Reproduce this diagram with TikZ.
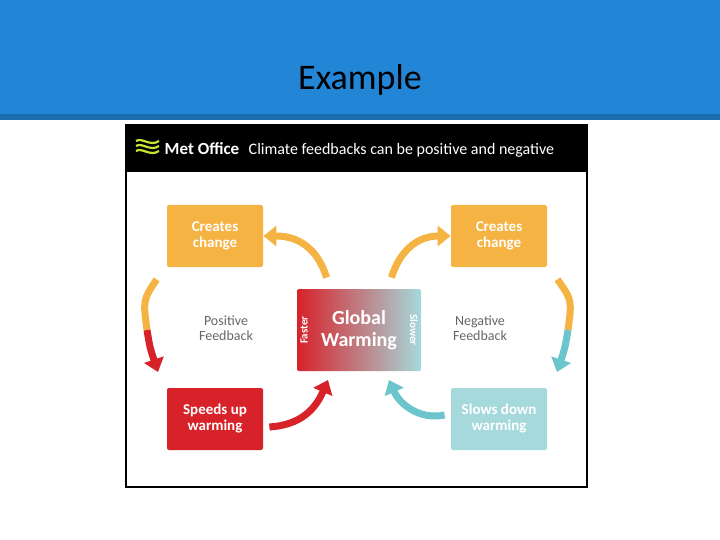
\documentclass[tikz,border=0pt]{standalone}
\usepackage{fontspec}
\setmainfont{Carlito}
\usetikzlibrary{positioning,arrows.meta}
\definecolor{titleblue}{HTML}{2385D6}
\definecolor{titledark}{HTML}{1C6CB0}
\definecolor{boxorange}{HTML}{F4B342}
\definecolor{boxred}{HTML}{D7222A}
\definecolor{boxteal}{HTML}{A6D9DC}
\definecolor{arrteal}{HTML}{6CC4CC}
\definecolor{midorange}{HTML}{E08A3A}
\definecolor{logogreen}{HTML}{C8E030}
\tikzset{
	every path/.style={thick},
	box/.style={
		rectangle,
		rounded corners=2pt,
		minimum width=96pt,
		minimum height=62pt,
		text=white,
		font=\bfseries\fontsize{15}{16}\selectfont,
		align=center,
	},
	fbtext/.style={
		text=black!60,
		font=\fontsize{14}{15}\selectfont,
		align=center,
	},
	feed/.style={
		line width=7pt,
		-{Triangle[width=20pt,length=13pt]},
	},
}
\begin{document}
\begin{tikzpicture}[x=1pt,y=-1pt]
\useasboundingbox (0,0) rectangle (720,540);
% title bar
\fill[titleblue] (0,0) rectangle (720,114);
\fill[titledark] (0,114) rectangle (720,120);
\node (title) at (360,80) {\fontsize{36}{40}\selectfont Example};
% picture frame
\draw[black, line width=1.2pt] (126,125) rectangle (587,487);
\fill[black] (126,125) rectangle (587,172);
\foreach \dy in {0,5,10}
	\draw[logogreen, line width=2.2pt] (136,141+\dy) .. controls (142,137+\dy) and (150,147+\dy) .. (159,141+\dy);
\node[anchor=west, text=white, font=\bfseries\fontsize{17}{18}\selectfont] (met) at (161,149) {Met Office};
\node[anchor=west, text=white, font=\fontsize{16}{18}\selectfont] (head) at (245,150) {Climate feedbacks can be positive and negative};
% boxes
\node[box, fill=boxorange] (ccl) at (215,236) {Creates\\change};
\node[box, fill=boxorange] (ccr) at (499,236) {Creates\\change};
\node[box, fill=boxred] (spd) at (215,419) {Speeds up\\warming};
\node[box, fill=boxteal] (slw) at (499,419) {Slows down\\warming};
\node[rectangle, rounded corners=2pt, minimum width=124pt, minimum height=82pt,
	left color=boxred, middle color=midorange, right color=boxteal] (gw) at (359,330) {};
\node[text=white, font=\bfseries\fontsize{20}{22}\selectfont, align=center] (gwt) at (359,330) {Global\\Warming};
\node[text=white, font=\bfseries\fontsize{11}{12}\selectfont, rotate=90] (fast) at (304,330) {Faster};
\node[text=white, font=\bfseries\fontsize{11}{12}\selectfont, rotate=-90] (slow) at (414,330) {Slower};
\node[fbtext] (pos) at (226,328) {Positive\\Feedback};
\node[fbtext] (neg) at (480,328) {Negative\\Feedback};
% feedback arrows
\draw[feed, boxorange] (gw.north west)++(30,-11) coordinate (a1) .. controls (318,250) and (300,236) .. (ccl.east);
\draw[feed, boxorange] (gw.north east)++(-30,-11) coordinate (a2) .. controls (400,250) and (418,236) .. (ccr.west);
\draw[line width=7pt, boxorange] (ccl.south west)++(-10,12) .. controls (143,300) .. (147,330) coordinate (l1);
\draw[feed, boxred] (l1) .. controls (150,348) .. (158,372);
\draw[line width=7pt, boxorange] (ccr.south east)++(10,12) .. controls (572,300) .. (568,330) coordinate (r1);
\draw[feed, arrteal] (r1) .. controls (565,348) .. (557,372);
\draw[feed, boxred] (spd.east)++(6,8) .. controls (300,425) and (315,410) .. (328,380);
\draw[feed, arrteal] (slw.west)++(-6,-4) .. controls (420,420) and (400,405) .. (389,380);
\end{tikzpicture}
\end{document}
